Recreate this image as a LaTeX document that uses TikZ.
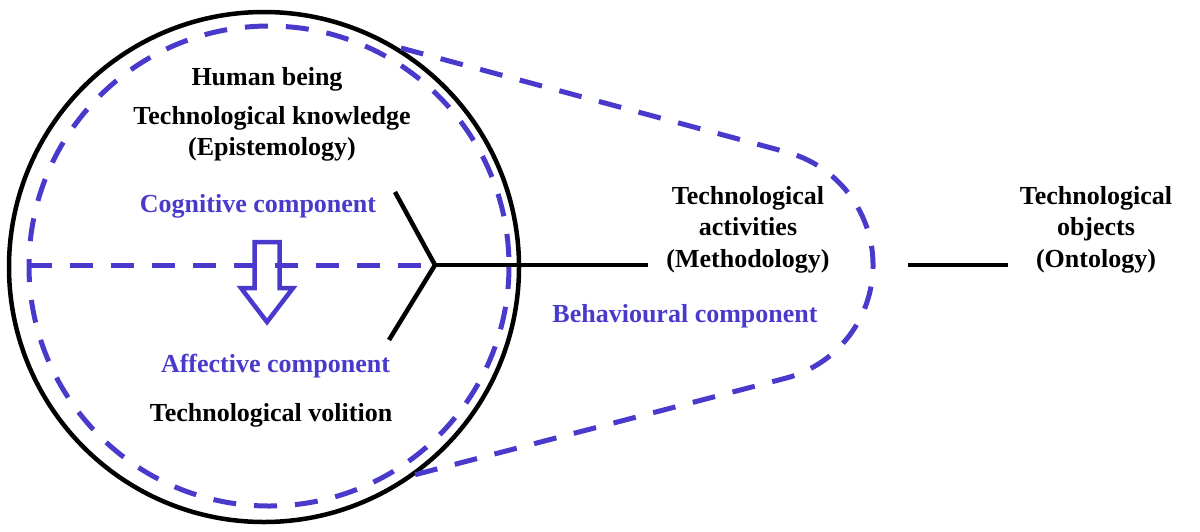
\documentclass[tikz,border=0pt]{standalone}
\usepackage{fontspec}
\setmainfont{Liberation Serif}
\definecolor{myblue}{RGB}{74,58,204}
\begin{document}
\begin{tikzpicture}[x=1pt,y=-1pt,
  lbl/.style={font=\bfseries\fontsize{26}{32}\selectfont, anchor=base, inner sep=0pt},
  bl/.style={lbl, text=myblue},
  blk/.style={line width=4.5pt, draw=black},
  bdash/.style={line width=5pt, draw=myblue, dash pattern=on 23pt off 18pt},
]
\useasboundingbox (0,0) rectangle (1200,531);
% circles
\draw[blk] (264,267) circle[radius=255];
\draw[bdash] (269,266) circle[radius=240];
% coordinates
\coordinate (J) at (435,265);
\coordinate (U) at (395,192);
\coordinate (L) at (389,340);
\coordinate (DL) at (29,265);
\coordinate (T0) at (401,48);
\coordinate (T1) at (786.3,152);
\coordinate (B1) at (410,476);
% texts
\node[lbl] (human) at (267,85) {Human being};
\node[lbl] (know) at (272,124) {Technological knowledge};
\node[lbl] (epis) at (272,155) {(Epistemology)};
\node[bl] (cog) at (258,212) {Cognitive component};
\node[bl] (aff) at (275.5,372) {Affective component};
\node[lbl] (vol) at (271,421) {Technological volition};
\node[lbl] (act1) at (748,204) {Technological};
\node[lbl] (act2) at (748,235.5) {activities};
\node[lbl] (act3) at (748,267) {(Methodology)};
\node[bl] (beh) at (685,322) {Behavioural component};
\node[lbl] (obj1) at (1096,204) {Technological};
\node[lbl] (obj2) at (1096,235.5) {objects};
\node[lbl] (obj3) at (1096,267) {(Ontology)};
\coordinate (E1) at (648,265);
\coordinate (S2) at (908,265);
\coordinate (E2) at (1008,265);
% dashed
\draw[bdash] (DL) -- (J);
\draw[bdash] (T0) -- (T1) arc[start angle=-75,end angle=75,radius=117] -- (B1);
% black lines
\draw[blk, line cap=butt] (U) -- (J) -- (L);
\draw[blk] (J) -- (E1);
\draw[blk] (S2) -- (E2);
% arrow
\draw[myblue, line width=4.5pt, line join=miter] (254.5,242) -- (279.5,242) -- (279.5,288) -- (293,288) -- (267,322) -- (241,288) -- (254.5,288) -- cycle;
\end{tikzpicture}
\end{document}
